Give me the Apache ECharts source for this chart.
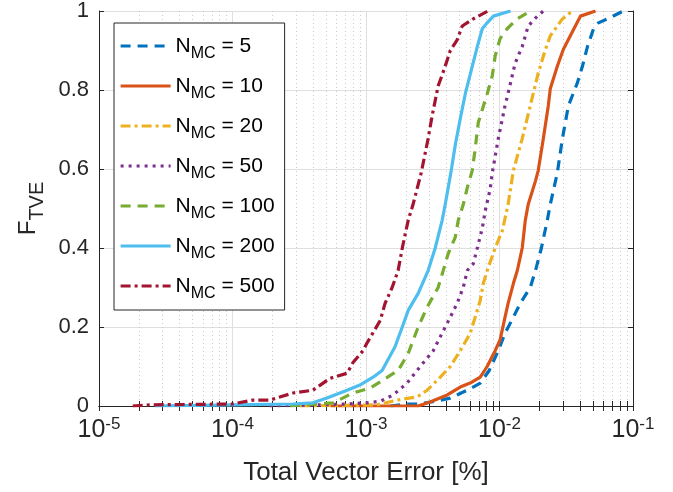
<!DOCTYPE html>
<html><head><meta charset="utf-8">
<script src="https://cdn.jsdelivr.net/npm/echarts@6/dist/echarts.min.js"></script>
<style>html,body{margin:0;padding:0;background:#fff}#c{width:673px;height:492px}</style>
</head><body><div id="c"></div>
<script>
// ---- data ----
const nmcValues = [5, 10, 20, 50, 100, 200, 500];
const seriesColors = ['#0072BD', '#D95319', '#EDB120', '#7E2F8E', '#77AC30', '#4DBEEE', '#A2142F'];

const tve5 = [1.52e-3, 2.03e-3, 2.5e-3, 3.3e-3, 4.28e-3, 5.74e-3, 7.18e-3, 8.38e-3, 9.79e-3, 1.10e-2, 1.27e-2, 1.43e-2, 1.70e-2, 1.86e-2, 2.06e-2, 2.28e-2, 2.40e-2, 2.71e-2, 2.96e-2, 3.28e-2, 3.83e-2, 4.18e-2, 4.56e-2, 5.06e-2, 5.51e-2, 6.43e-2, 8.47e-2];
const f5   = [0, 0.005, 0.005, 0.012, 0.02, 0.04, 0.058, 0.09, 0.14, 0.184, 0.225, 0.26, 0.30, 0.343, 0.40, 0.47, 0.51, 0.59, 0.677, 0.76, 0.818, 0.86, 0.91, 0.955, 0.97, 0.98, 1.0];

const tve10 = [5.4e-4, 2.46e-3, 3.02e-3, 4.06e-3, 5.08e-3, 6.03e-3, 7.18e-3, 8.08e-3, 9.28e-3, 1.01e-2, 1.10e-2, 1.16e-2, 1.27e-2, 1.36e-2, 1.48e-2, 1.56e-2, 1.64e-2, 1.86e-2, 1.95e-2, 2.13e-2, 2.32e-2, 2.40e-2, 2.71e-2, 3.01e-2, 3.70e-2, 4.04e-2, 5.24e-2];
const f10   = [0, 0, 0.01, 0.028, 0.048, 0.058, 0.073, 0.10, 0.14, 0.167, 0.225, 0.26, 0.31, 0.343, 0.40, 0.47, 0.51, 0.57, 0.596, 0.677, 0.76, 0.803, 0.86, 0.903, 0.962, 0.987, 1.0];

const tve20 = [3.2e-4, 1.21e-3, 1.71e-3, 2.42e-3, 2.87e-3, 3.60e-3, 4.28e-3, 5.08e-3, 6.03e-3, 6.58e-3, 7.18e-3, 7.56e-3, 8.22e-3, 9.28e-3, 1.05e-2, 1.16e-2, 1.27e-2, 1.48e-2, 1.70e-2, 1.95e-2, 2.21e-2, 2.40e-2, 2.96e-2, 3.51e-2];
const f20   = [0, 0.003, 0.015, 0.023, 0.04, 0.073, 0.10, 0.14, 0.184, 0.225, 0.268, 0.31, 0.35, 0.40, 0.444, 0.51, 0.596, 0.677, 0.76, 0.843, 0.903, 0.937, 0.98, 1.0];

const tve50 = [1.9e-4, 3.6e-4, 7.2e-4, 1.02e-3, 1.28e-3, 1.60e-3, 2.03e-3, 2.55e-3, 3.19e-3, 3.79e-3, 4.28e-3, 4.82e-3, 5.35e-3, 5.74e-3, 6.36e-3, 6.82e-3, 7.43e-3, 7.83e-3, 8.52e-3, 8.83e-3, 9.79e-3, 1.10e-2, 1.21e-2, 1.31e-2, 1.48e-2, 1.64e-2, 1.92e-2, 2.13e-2];
const f50   = [0, 0.002, 0.005, 0.008, 0.012, 0.028, 0.058, 0.10, 0.14, 0.19, 0.225, 0.26, 0.30, 0.343, 0.36, 0.40, 0.45, 0.495, 0.55, 0.59, 0.677, 0.76, 0.818, 0.868, 0.91, 0.962, 0.987, 1.0];

const tve100 = [2.7e-4, 5.66e-4, 7.99e-4, 1.07e-3, 1.74e-3, 2.07e-3, 2.46e-3, 2.87e-3, 3.47e-3, 3.79e-3, 4.13e-3, 4.66e-3, 4.91e-3, 5.35e-3, 5.74e-3, 6.25e-3, 6.58e-3, 6.93e-3, 8.08e-3, 8.83e-3, 9.28e-3, 1.01e-2, 1.14e-2, 1.36e-2, 1.70e-2];
const f100   = [0, 0.008, 0.033, 0.045, 0.09, 0.133, 0.20, 0.25, 0.30, 0.343, 0.386, 0.427, 0.47, 0.51, 0.553, 0.596, 0.652, 0.717, 0.79, 0.836, 0.886, 0.93, 0.955, 0.98, 1.0];

const tve200 = [2.62e-5, 1.0e-4, 2.84e-4, 4.0e-4, 5.1e-4, 7.22e-4, 9.0e-4, 1.13e-3, 1.32e-3, 1.65e-3, 1.87e-3, 2.07e-3, 2.46e-3, 2.92e-3, 3.30e-3, 3.72e-3, 3.92e-3, 4.13e-3, 4.35e-3, 4.66e-3, 5.08e-3, 5.54e-3, 6.25e-3, 6.82e-3, 7.43e-3, 8.08e-3, 8.99e-3, 1.21e-2];
const f200   = [0, 0.003, 0.005, 0.008, 0.02, 0.04, 0.053, 0.073, 0.09, 0.15, 0.20, 0.242, 0.285, 0.343, 0.40, 0.47, 0.51, 0.553, 0.596, 0.66, 0.727, 0.79, 0.86, 0.91, 0.955, 0.97, 0.987, 1.0];

const tve500 = [1.79e-5, 2.4e-5, 1.0e-4, 1.42e-4, 1.91e-4, 2.84e-4, 4.0e-4, 5.37e-4, 7.22e-4, 7.99e-4, 9.5e-4, 1.02e-3, 1.28e-3, 1.39e-3, 1.57e-3, 1.74e-3, 1.87e-3, 2.07e-3, 2.25e-3, 2.59e-3, 2.92e-3, 3.13e-3, 3.47e-3, 3.92e-3, 4.28e-3, 4.82e-3, 5.26e-3, 6.36e-3, 8.22e-3];
const f500   = [0, 0.003, 0.005, 0.015, 0.015, 0.033, 0.04, 0.07, 0.083, 0.11, 0.14, 0.16, 0.217, 0.26, 0.30, 0.343, 0.40, 0.47, 0.51, 0.59, 0.677, 0.735, 0.81, 0.86, 0.90, 0.927, 0.962, 0.98, 1.0];

const xTickExponents = [-5, -4, -3, -2, -1];
const yTickValues = [0, 0.2, 0.4, 0.6, 0.8, 1];
const xAxisTitle = 'Total Vector Error [%]';
const yAxisTitleMain = 'F';
const yAxisTitleSub = 'TVE';
const legendSub = 'MC';

// ---- build ----
const tveList = [tve5, tve10, tve20, tve50, tve100, tve200, tve500];
const fList = [f5, f10, f20, f50, f100, f200, f500];
const dashes = [[10, 7], 'solid', [10, 4, 3, 4], [3, 5], [10, 7], 'solid', [10, 4, 3, 4]];

const majorVals = xTickExponents.map(e => Math.pow(10, e));
const minorVals = [];
for (let e = -5; e <= -2; e++) for (let m = 2; m <= 9; m++) minorVals.push(m * Math.pow(10, e));
const allVals = majorVals.concat(minorVals);

const FONT = 'Liberation Sans';
const TXT = '#262626';
const AX = '#262626';

const baseX = {type: 'log', logBase: 10, min: 1e-5, max: 1e-1, gridIndex: 0};

const option = {
  animation: false,
  backgroundColor: '#ffffff',
  grid: {left: 99, right: 40, top: 10, bottom: 86, containLabel: false},
  legend: {
    orient: 'vertical', left: 114, top: 23,
    backgroundColor: '#ffffff', borderColor: AX, borderWidth: 1, borderRadius: 0,
    padding: [7, 10, 8, 5], itemWidth: 50, itemHeight: 14, itemGap: 8,
    selectedMode: false,
    itemStyle: {color: 'rgba(0,0,0,0)', borderWidth: 0, opacity: 0},
    lineStyle: {width: 3.2},
    formatter: name => '{n|N}{s|' + legendSub + '}{n| = ' + name.split('= ')[1] + '}',
    textStyle: {
      fontFamily: FONT, color: '#000',
      rich: {
        n: {fontFamily: FONT, fontSize: 21, lineHeight: 20, verticalAlign: 'top', color: '#000'},
        s: {fontFamily: FONT, fontSize: 16, lineHeight: 14, padding: [16, 0, 0, 0], color: '#000'}
      }
    }
  },
  xAxis: [
    Object.assign({}, baseX, {
      position: 'bottom',
      name: xAxisTitle, nameLocation: 'middle', nameGap: 54,
      nameTextStyle: {fontFamily: FONT, fontSize: 26, color: TXT},
      axisLine: {show: true, lineStyle: {color: AX, width: 1}},
      axisTick: {show: true, inside: true, length: 5, lineStyle: {color: AX}, customValues: allVals},
      axisLabel: {
        customValues: majorVals, margin: 13,
        formatter: v => '{b|10}{e|' + Math.round(Math.log10(v)) + '}',
        rich: {
          b: {fontFamily: FONT, fontSize: 25, lineHeight: 24, verticalAlign: 'bottom', color: TXT},
          e: {fontFamily: FONT, fontSize: 17, lineHeight: 15, padding: [0, 0, 13, 0], color: TXT}
        }
      },
      splitLine: {show: false}
    }),
    Object.assign({}, baseX, {
      position: 'top',
      axisLine: {show: true, lineStyle: {color: AX, width: 1}},
      axisTick: {show: true, inside: true, length: 5, lineStyle: {color: AX}, customValues: allVals},
      axisLabel: {show: false},
      splitLine: {show: false}
    }),
    Object.assign({}, baseX, {
      axisLine: {show: false},
      axisTick: {show: false, customValues: majorVals},
      axisLabel: {show: false},
      splitLine: {show: true, lineStyle: {color: '#dfdfdf', width: 1, type: 'solid'}}
    }),
    Object.assign({}, baseX, {
      axisLine: {show: false},
      axisTick: {show: false, customValues: minorVals},
      axisLabel: {show: false},
      splitLine: {show: true, lineStyle: {color: '#c9c9c9', width: 1, type: [1, 3]}}
    })
  ],
  yAxis: [
    {
      type: 'value', min: 0, max: 1, interval: 0.2, position: 'left',
      name: '{f|' + yAxisTitleMain + '}{t|' + yAxisTitleSub + '}', nameLocation: 'middle', nameGap: 52,
      nameTextStyle: {
        rich: {
          f: {fontFamily: FONT, fontSize: 24, lineHeight: 24, verticalAlign: 'top', color: TXT},
          t: {fontFamily: FONT, fontSize: 20, lineHeight: 20, padding: [18, 0, 0, 0], color: TXT}
        }
      },
      axisLine: {show: true, lineStyle: {color: AX, width: 1}},
      axisTick: {show: true, inside: true, length: 5, lineStyle: {color: AX}},
      axisLabel: {margin: 10, fontFamily: FONT, fontSize: 22, color: TXT,
        customValues: yTickValues},
      splitLine: {show: true, lineStyle: {color: '#dfdfdf', width: 1}}
    },
    {
      type: 'value', min: 0, max: 1, interval: 0.2, position: 'right',
      axisLine: {show: true, lineStyle: {color: AX, width: 1}},
      axisTick: {show: true, inside: true, length: 5, lineStyle: {color: AX}},
      axisLabel: {show: false},
      splitLine: {show: false}
    }
  ],
  series: nmcValues.map((n, i) => ({
    type: 'line',
    name: 'N_MC = ' + n,
    xAxisIndex: 0, yAxisIndex: 0,
    data: tveList[i].map((x, j) => [x, fList[i][j]]),
    showSymbol: false, symbol: 'none',
    color: seriesColors[i],
    lineStyle: {color: seriesColors[i], width: 3.2, type: dashes[i], cap: 'butt', join: 'round'},
    itemStyle: {color: seriesColors[i]},
    emphasis: {disabled: true},
    z: 3 + i
  }))
};

const chart = echarts.init(document.getElementById('c'), null, {renderer: 'canvas'});
chart.setOption(option);
</script>
</body></html>
